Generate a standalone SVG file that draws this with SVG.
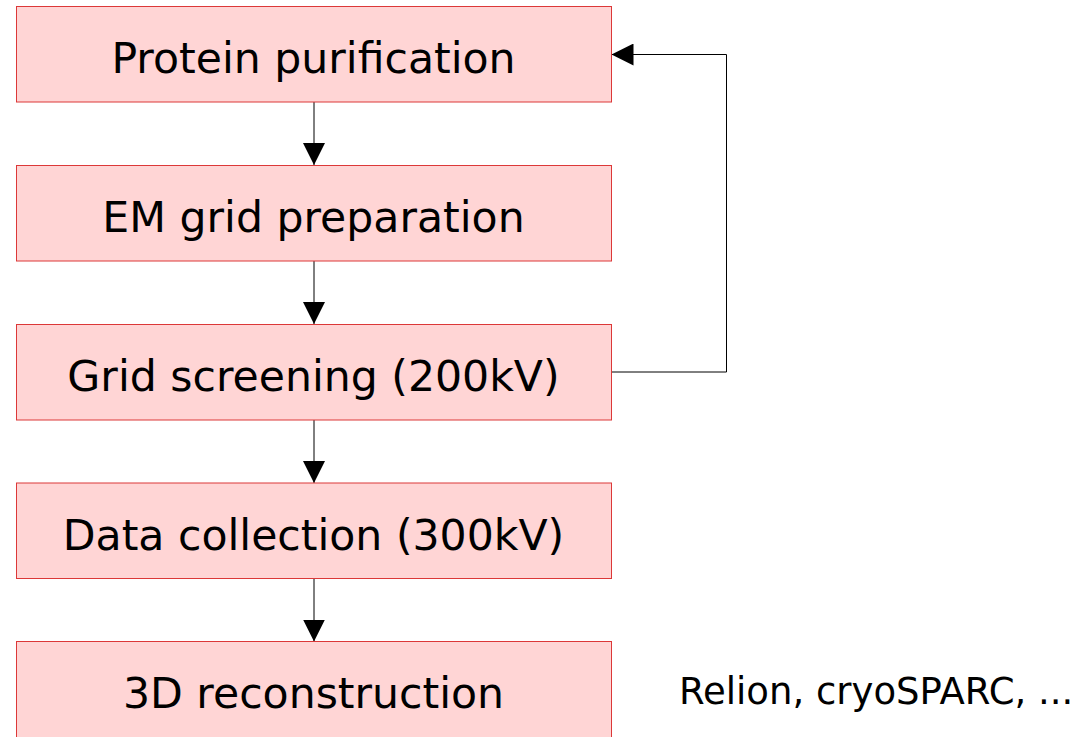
<svg xmlns="http://www.w3.org/2000/svg" width="1084" height="737" viewBox="0 0 1084 737">
  <style>
    .box { fill: #ffd5d5; stroke: #dc3838; stroke-width: 1; }
    .label { font-family: "DejaVu Sans", sans-serif; font-size: 42.6px; fill: #000; text-anchor: middle; }
    .note { font-family: "DejaVu Sans", sans-serif; font-size: 37px; fill: #000; }
    .edge { fill: none; stroke: #000; stroke-width: 1; marker-end: url(#arrow); }
  </style>
  <defs>
    <marker id="arrow" markerUnits="userSpaceOnUse" markerWidth="22" markerHeight="22" refX="22" refY="11" orient="auto">
      <path d="M0,0 L22,11 L0,22 Z" fill="#000"/>
    </marker>
  </defs>
  <rect width="1084" height="737" fill="#fff"/>

  <g id="connectors">
    <path class="edge" d="M314,102 V165"/>
    <path class="edge" d="M314,261 V324"/>
    <path class="edge" d="M314,420 V483"/>
    <path class="edge" d="M314,578 V641.5"/>
    <path class="edge" d="M611.5,372 H726.5 V54.5 H611.5"/>
  </g>

  <g id="protein-purification">
    <rect class="box" x="16.5" y="6.5" width="595" height="95.5"/>
    <text class="label" x="313.5" y="73">Protein purification</text>
  </g>
  <g id="em-grid-preparation">
    <rect class="box" x="16.5" y="165.5" width="595" height="95.5"/>
    <text class="label" x="313.5" y="231.5">EM grid preparation</text>
  </g>
  <g id="grid-screening">
    <rect class="box" x="16.5" y="324.5" width="595" height="95.5"/>
    <text class="label" x="313.5" y="391">Grid screening (200kV)</text>
  </g>
  <g id="data-collection">
    <rect class="box" x="16.5" y="483" width="595" height="95.5"/>
    <text class="label" x="313.5" y="549.5">Data collection (300kV)</text>
  </g>
  <g id="reconstruction">
    <rect class="box" x="16.5" y="641.5" width="595" height="110"/>
    <text class="label" x="313.5" y="708">3D reconstruction</text>
  </g>
  <g id="software-note">
    <text class="note" x="679" y="704">Relion, cryoSPARC, ...</text>
  </g>
</svg>
